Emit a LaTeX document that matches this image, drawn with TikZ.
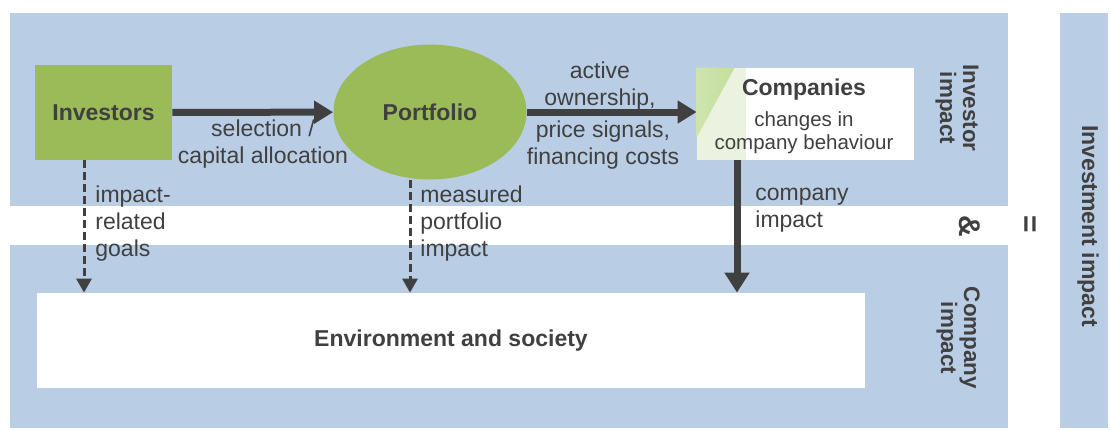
\documentclass[tikz,border=0pt]{standalone}
\usepackage{fontspec}
\setmainfont{Liberation Sans}
\usetikzlibrary{arrows.meta,shapes.geometric}
\definecolor{bandblue}{HTML}{B9CDE5}
\definecolor{nodegreen}{HTML}{9BBB59}
\definecolor{txt}{HTML}{404040}
\definecolor{lightgreen}{HTML}{C4DF9C}
\definecolor{palegreen}{HTML}{EBF3E0}
\begin{document}
\begin{tikzpicture}[x=0.5pt,y=-0.5pt,
  every node/.style={text=txt, inner sep=0pt, font=\fontsize{11.5}{13.5}\selectfont},
  band/.style={fill=bandblue, draw=none},
  boldtxt/.style={font=\bfseries\fontsize{11.5}{13.5}\selectfont},
  greenbox/.style={fill=nodegreen, draw=none, minimum width=68.5pt, minimum height=47.5pt, boldtxt},
  greenell/.style={ellipse, fill=nodegreen, draw=none, minimum width=96.5pt, minimum height=67.5pt, boldtxt},
  whitebox/.style={fill=white, draw=none},
  lbl/.style={align=center},
  lbll/.style={align=left, anchor=west},
  rot/.style={rotate=-90, align=center, font=\bfseries\fontsize{11.2}{11.5}\selectfont},
  thickarrow/.style={draw=txt, line width=3.5pt, -{Triangle[length=9.5pt,width=11pt]}},
  dasharrow/.style={draw=txt, line width=1.5pt, dash pattern=on 4pt off 2pt, -{Triangle[length=7pt,width=7.5pt]}}
]
\useasboundingbox (0,0) rectangle (1110,430);
% bands
\fill[band] (10,13) rectangle (1008,206);
\fill[band] (10,245) rectangle (1008,428);
\fill[band] (1060,13) rectangle (1108,428);
% nodes
\node[greenbox] (inv) at (103.5,112.5) {Investors};
\node[greenell] (port) at (430,112) {Portfolio};
\node[whitebox, minimum width=108.5pt, minimum height=46pt] (comp) at (805.5,114) {};
\fill[palegreen] (comp.north west) rectangle ([xshift=24.5pt]comp.south west);
\shade[left color=lightgreen!75!palegreen, right color=lightgreen] (comp.north west) -- ([xshift=19pt]comp.north west) -- ([yshift=-35pt]comp.north west) -- cycle;
\node[boldtxt] (compt) at (804,90) {Companies};
\node[lbl, font=\fontsize{10.25}{11.5}\selectfont] (comps) at (804,133) {changes in\\company behaviour};
\node[whitebox, minimum width=414pt, minimum height=47.5pt, boldtxt] (env) at (451,340.5) {Environment and society};
% connectors
\draw[thickarrow] (inv) -- (port);
\draw[thickarrow] (port.east) -- (port.east -| comp.west);
\coordinate (xa) at (84,0);
\coordinate (xb) at (410,0);
\coordinate (xc) at (737,0);
\draw[dasharrow] (inv.south -| xa) -- (env.north -| xa);
\draw[dasharrow] (port.south -| xb) -- (env.north -| xb);
\draw[thickarrow, -{Triangle[length=10pt,width=12pt]}] (comp.south -| xc) -- (env.north -| xc);
% labels
\node[lbl] (l1) at (263,144) {selection /\\capital allocation};
\node[lbl] (l2) at (600,86) {active\\ownership,};
\node[lbl] (l3) at (603,145) {price signals,\\financing costs};
\node[lbll] (l4) at (95,224) {impact-\\related\\goals};
\node[lbll] (l5) at (420,224) {measured\\portfolio\\impact};
\node[lbll] (l6) at (755,210.5) {company\\impact};
% side labels
\node[rot] (r1) at (957,108) {Investor\\impact};
\node[rot] (r2) at (958,338) {Company\\impact};
\node[rot, font=\bfseries\fontsize{15}{16}\selectfont] (amp) at (970,226) {\&};
\node[rot, font=\bfseries\fontsize{15}{16}\selectfont] (eq) at (1028,224) {=};
\node[rot, font=\bfseries\fontsize{11.5}{13.5}\selectfont] (r3) at (1088,226) {Investment impact};
\end{tikzpicture}
\end{document}
